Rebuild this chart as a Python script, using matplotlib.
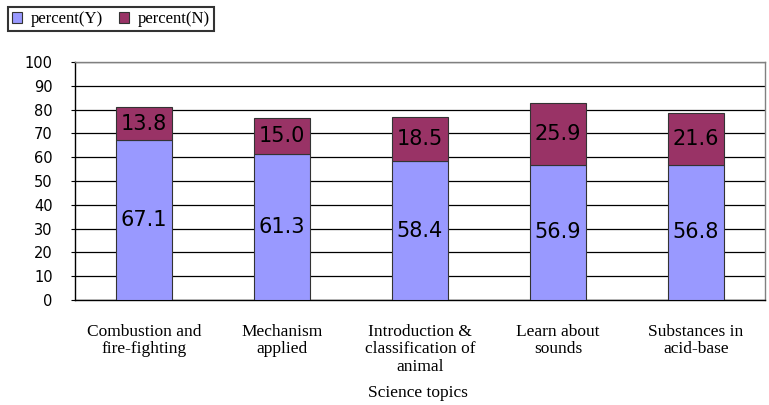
import matplotlib.pyplot as plt
import numpy as np

# data
topics = ['Combustion and\nfire-fighting', 'Mechanism\napplied',
          'Introduction &\nclassification of\nanimal', 'Learn about\nsounds',
          'Substances in\nacid-base']
pct_y = [67.1, 61.3, 58.4, 56.9, 56.8]
pct_n = [13.8, 15.0, 18.5, 25.9, 21.6]

fig = plt.figure(figsize=(7.69, 4.05), dpi=100)
ax = fig.add_axes([75/769, 1 - 300/405, 690/769, 238/405])

x = np.arange(len(topics))
b1 = ax.bar(x, pct_y, width=0.41, color='#9999FF', edgecolor='#333333', linewidth=0.8,
            label='percent(Y)', zorder=3)
b2 = ax.bar(x, pct_n, width=0.41, bottom=pct_y, color='#993366', edgecolor='#333333',
            linewidth=0.8, label='percent(N)', zorder=3)

for i in range(len(topics)):
    ax.text(x[i], pct_y[i] / 2, f'{pct_y[i]:.1f}', ha='center', va='center',
            fontsize=15, color='black', zorder=4)
    ax.text(x[i], pct_y[i] + pct_n[i] / 2, f'{pct_n[i]:.1f}', ha='center', va='center',
            fontsize=15, color='black', zorder=4)

ax.set_xlim(-0.5, len(topics) - 0.5)
ax.set_ylim(0, 100)
ax.set_yticks(range(0, 101, 10))
ax.tick_params(axis='y', labelsize=10.5, length=3, pad=13, color='black')
ax.tick_params(axis='x', length=0, pad=17)
ax.set_xticks(x)
ax.set_xticklabels(topics, family='Liberation Serif', fontsize=12.5, linespacing=1.15)
ax.yaxis.grid(True, color='black', linewidth=0.9, zorder=0)
for s in ax.spines.values():
    s.set_color('#808080')
    s.set_linewidth(1)
ax.spines['left'].set_color('black')
ax.spines['bottom'].set_color('black')

fig.text(418/769, 1 - 393/405, 'Science topics', ha='center', va='center',
         family='Liberation Serif', fontsize=12.5)

leg = fig.legend(handles=[b1, b2], loc='upper left', bbox_to_anchor=(8/769, 1 - 7/405),
                 ncol=2, prop={'family': 'Liberation Serif', 'size': 12},
                 handlelength=0.6, handleheight=0.6, handletextpad=0.5, columnspacing=1.0,
                 borderpad=0.25, borderaxespad=0, fancybox=False, edgecolor='black')
leg.get_frame().set_linewidth(1.5)

fig.savefig('out.png', dpi=100)
